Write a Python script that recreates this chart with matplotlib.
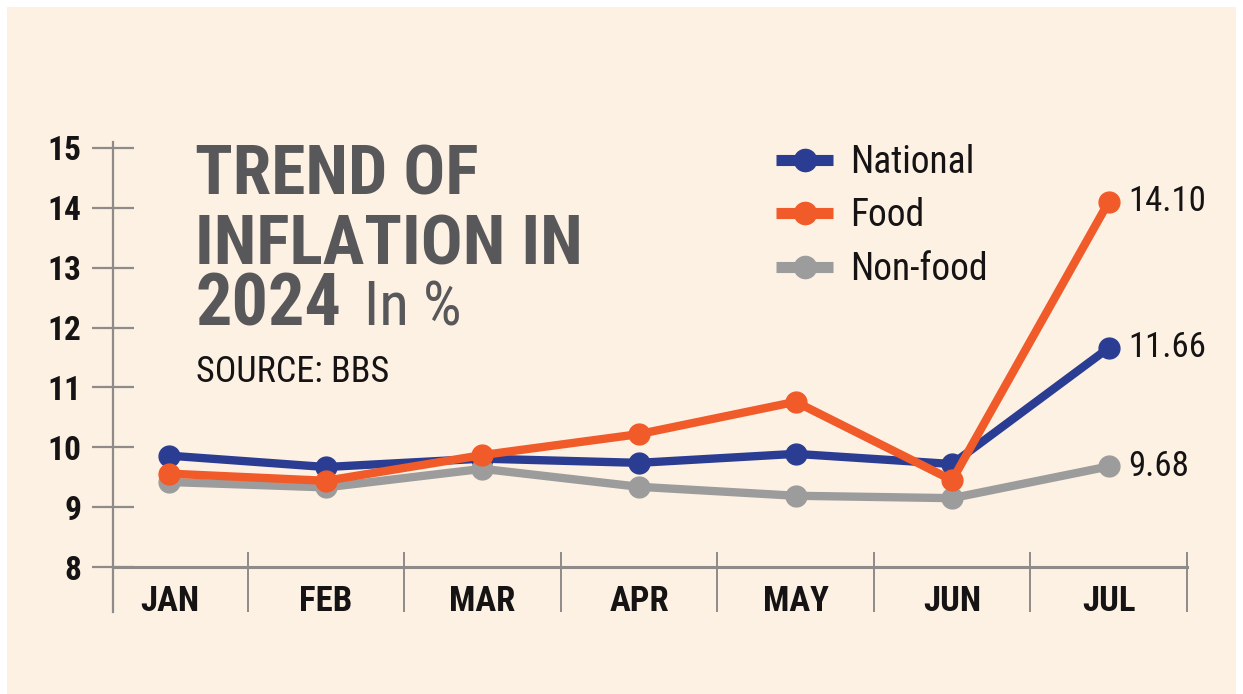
import os
import matplotlib
matplotlib.use("Agg")
import matplotlib.pyplot as plt
from matplotlib.lines import Line2D
from matplotlib.patches import Rectangle
from matplotlib import font_manager
from matplotlib.font_manager import FontProperties

months = ["JAN", "FEB", "MAR", "APR", "MAY", "JUN", "JUL"]
national = [9.86, 9.67, 9.81, 9.74, 9.89, 9.72, 11.66]
food = [9.56, 9.44, 9.87, 10.22, 10.76, 9.45, 14.10]
nonfood = [9.42, 9.33, 9.64, 9.34, 9.19, 9.15, 9.68]
yticks = [8, 9, 10, 11, 12, 13, 14, 15]

files = {os.path.basename(f.fname).lower(): f.fname for f in font_manager.fontManager.ttflist}


def pick(cands, weight="normal"):
    for c in cands:
        if c.lower() in files:
            return FontProperties(fname=files[c.lower()])
    return FontProperties(family="DejaVu Sans", weight=weight)


f_black = pick(["NotoSans-ExtraCondensedBlack.ttf", "NotoSans-CondensedBlack.ttf",
                "NotoSans-ExtraCondensedExtraBold.ttf", "NotoSans-CondensedExtraBold.ttf",
                "LiberationSansNarrow-Bold.ttf", "RobotoCondensed-Bold.ttf",
                "DejaVuSansCondensed-Bold.ttf"], "bold")
f_bold = pick(["NotoSans-CondensedBold.ttf", "NotoSans-ExtraCondensedBold.ttf",
               "LiberationSansNarrow-Bold.ttf", "RobotoCondensed-Bold.ttf",
               "DejaVuSansCondensed-Bold.ttf"], "bold")
f_reg = pick(["NotoSans-ExtraCondensed.ttf", "NotoSans-Condensed.ttf",
              "NotoSans-ExtraCondensedRegular.ttf", "NotoSans-CondensedRegular.ttf",
              "LiberationSansNarrow-Regular.ttf", "RobotoCondensed-Regular.ttf",
              "DejaVuSansCondensed.ttf"])

blue = "#2b3d92"
orange = "#f15a29"
grey = "#9c9c9c"
axcol = "#8e8b89"
bg = "#fcf1e3"
ink = "#151313"

W, H = 1243, 694
fig = plt.figure(figsize=(W/100, H/100), dpi=100, facecolor="white")
fig.patches.append(Rectangle((7/W, 0), (1236-7)/W, 687/H, transform=fig.transFigure,
                             facecolor=bg, edgecolor="none", zorder=-5))

ax = fig.add_axes([113/W, 1-567/H, 1074/W, (567-136)/H])
ax.set_facecolor("none")
x = list(range(len(months)))
ax.set_xlim(-0.36, 6.5)
ax.set_ylim(8, 15.2)
for s in ax.spines.values():
    s.set_visible(False)

# axis lines
ax.plot([-0.36, -0.36], [7.25, 15.1], color=axcol, lw=1.6, clip_on=False, zorder=1)
ax.plot([-0.36, 6.5], [8, 8], color=axcol, lw=2.2, clip_on=False, zorder=1)
ax.vlines([i + 0.5 for i in x], 7.25, 8.25, color=axcol, lw=1.4, clip_on=False, zorder=1)

ax.set_yticks(yticks)
ax.set_yticklabels([str(t) for t in yticks], fontproperties=f_bold, fontsize=24, color=ink)
ax.tick_params(axis="y", direction="inout", length=30, width=1.6, color=axcol, pad=8)
ax.set_xticks(x)
ax.set_xticklabels(months, fontproperties=f_bold, fontsize=25, color=ink)
ax.tick_params(axis="x", length=0, pad=13)

lw, ms = 6, 15
ax.plot(x, national, color=blue, lw=lw, marker="o", ms=ms, zorder=3, solid_joinstyle="round")
ax.plot(x, nonfood, color=grey, lw=lw, marker="o", ms=ms, zorder=4, solid_joinstyle="round")
ax.plot(x, food, color=orange, lw=lw, marker="o", ms=ms, zorder=5, solid_joinstyle="round")

for series in (food, national, nonfood):
    ax.annotate(f"{series[-1]:.2f}", (x[-1], series[-1]), xytext=(14, 0),
                textcoords="offset points", va="center", ha="left",
                fontproperties=f_reg, fontsize=25, color=ink)

handles = [Line2D([], [], color=c, lw=8, marker="o", ms=16, solid_capstyle="butt")
           for c in (blue, orange, grey)]
leg_font = f_reg.copy()
leg_font.set_size(27)
ax.legend(handles, ["National", "Food", "Non-food"], loc="upper left",
          bbox_to_anchor=(776/W, 1-144/H), bbox_transform=fig.transFigure,
          frameon=False, prop=leg_font, handlelength=1.52, handletextpad=0.45,
          labelspacing=0.44, labelcolor=ink, borderpad=0, borderaxespad=0)

tc = "#58585a"
fig.text(195/W, 1-195/H, "TREND OF", fontproperties=f_black, fontsize=50, color=tc, va="baseline")
fig.text(195/W, 1-265/H, "INFLATION IN", fontproperties=f_black, fontsize=50, color=tc, va="baseline")
fig.text(195/W, 1-325/H, "2024", fontproperties=f_black, fontsize=52, color=tc, va="baseline")
fig.text(364/W, 1-325/H, "In %", fontproperties=f_reg, fontsize=44, color=tc, va="baseline")
fig.text(196/W, 1-382/H, "SOURCE: BBS", fontproperties=f_reg, fontsize=26, color=ink, va="baseline")

fig.savefig("out.png", dpi=100, facecolor="white")
